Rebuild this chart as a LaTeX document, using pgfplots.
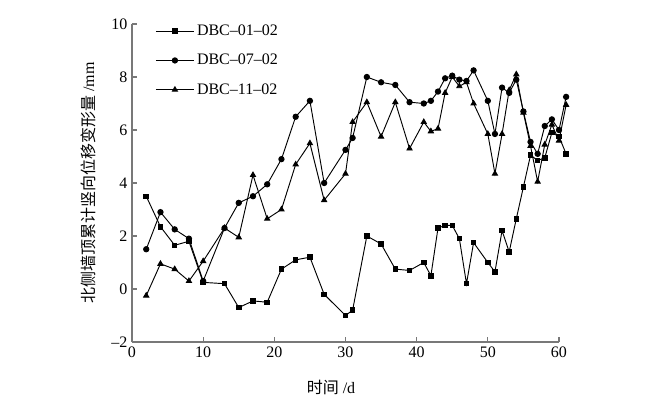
\documentclass[border=0pt]{standalone}
\usepackage{pgfplots}
\pgfplotsset{compat=1.18}
\usepackage{fontspec}
\setmainfont{Liberation Serif}
\newfontfamily\cjk{Noto Sans CJK SC}
\definecolor{axgray}{RGB}{120,120,120}

\pgfplotstableread{
x y
2 3.5
4 2.35
6 1.65
8 1.8
10 0.25
13 0.2
15 -0.7
17 -0.45
19 -0.5
21 0.75
23 1.1
25 1.2
27 -0.2
30 -1.0
31 -0.8
33 2.0
35 1.7
37 0.75
39 0.7
41 1.0
42 0.5
43 2.3
44 2.4
45 2.4
46 1.9
47 0.2
48 1.75
50 1.0
51 0.65
52 2.2
53 1.4
54 2.65
55 3.85
56 5.05
57 4.85
58 4.95
59 5.9
60 5.75
61 5.1
}\seriesA

\pgfplotstableread{
x y
2 1.5
4 2.9
6 2.25
8 1.9
10 0.3
13 2.3
15 3.25
17 3.5
19 3.95
21 4.9
23 6.5
25 7.1
27 4.0
30 5.25
31 5.7
33 8.0
35 7.8
37 7.7
39 7.05
41 7.0
42 7.1
43 7.45
44 7.95
45 8.05
46 7.9
47 7.85
48 8.25
50 7.1
51 5.85
52 7.6
53 7.4
54 7.9
55 6.7
56 5.55
57 5.1
58 6.15
59 6.4
60 6.0
61 7.25
}\seriesB

\pgfplotstableread{
x y
2 -0.25
4 0.95
6 0.75
8 0.3
10 1.05
13 2.3
15 1.95
17 4.3
19 2.65
21 3.0
23 4.7
25 5.5
27 3.35
30 4.35
31 6.3
33 7.05
35 5.75
37 7.05
39 5.3
41 6.3
42 5.95
43 6.05
44 7.4
45 8.0
46 7.65
47 7.8
48 7.0
50 5.85
51 4.35
52 5.85
53 7.5
54 8.1
55 6.65
56 5.4
57 4.05
58 5.45
59 6.2
60 5.6
61 6.95
}\seriesC

\begin{document}
\begin{tikzpicture}
\path[use as bounding box] (-99pt,-45pt) rectangle (403.5pt,256.5pt);
\begin{axis}[
  at={(0pt,0pt)}, anchor=south west,
  scale only axis,
  width=320.25pt, height=238.5pt,
  xmin=0, xmax=60, ymin=-2, ymax=10,
  clip=false,
  axis lines=left,
  axis line style={draw=axgray, line width=1pt, -},
  tick style={draw=axgray, line width=0.8pt},
  tick align=inside,
  major tick length=4pt,
  xtick={0,10,20,30,40,50,60},
  ytick={-2,0,2,4,6,8,10},
  yticklabels={\textendash2,0,2,4,6,8,10},
  xticklabels={0,10,20,30,40,50,60},
  ticklabel style={font=\fontsize{12}{14}\selectfont},
  xlabel={{\cjk 时间} /d},
  ylabel={{\cjk 北侧墙顶累计竖向位移变形量} /mm},
  label style={font=\fontsize{12}{14}\selectfont},
  xlabel style={at={(axis description cs:0.466,-0.105)}, anchor=north},
  ylabel style={yshift=5pt},
  legend style={draw=none, fill=none, at={(axis description cs:0.045,1.015)}, anchor=north west,
    font=\fontsize{12}{14}\selectfont, row sep=8.5pt},
  legend cell align=left,
  legend image code/.code={\draw[#1, mark repeat=2, mark phase=2] plot coordinates {(0cm,0cm) (0.5cm,0cm) (1cm,0cm)};},
  every axis plot/.append style={black, line width=0.7pt},
]
\addplot[mark=square*, mark size=1.7pt] table {\seriesA};
\addplot[mark=*, mark size=2pt] table {\seriesB};
\addplot[mark=triangle*, mark size=2.2pt] table {\seriesC};
\legend{DBC\textendash01\textendash02, DBC\textendash07\textendash02, DBC\textendash11\textendash02}
\end{axis}
\end{tikzpicture}
\end{document}
